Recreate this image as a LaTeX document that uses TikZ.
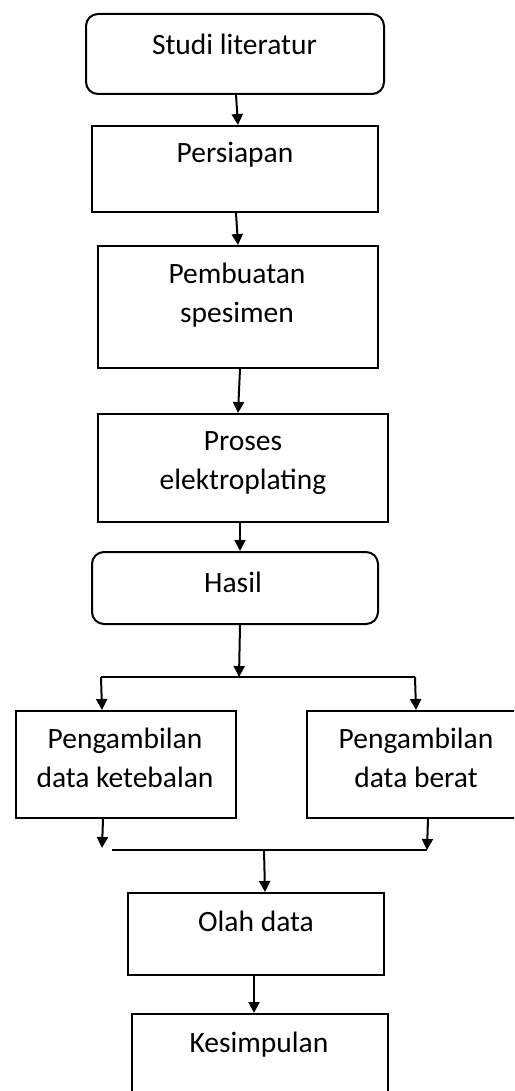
\documentclass[tikz,border=0pt]{standalone}
\usepackage{fontspec}
\setmainfont{Carlito}
\usetikzlibrary{arrows.meta}
\newcommand{\twoline}[2]{\begin{tabular}[t]{@{}c@{}}#1\\#2\end{tabular}}
\tikzset{
  box/.style={draw, line width=2pt, rectangle, inner sep=0pt, anchor=north west},
  rbox/.style={box, rounded corners=12pt},
  txt/.style={inner sep=0pt, anchor=base, font=\fontsize{29.5}{39}\selectfont},
  arr/.style={line width=2pt, -{Triangle[length=11pt,width=11pt]}},
  ln/.style={line width=2pt}
}
\begin{document}
\begin{tikzpicture}[x=1pt,y=-1pt]
\useasboundingbox (0,0) rectangle (514,1091);
\clip (0,0) rectangle (514,1091);
\fill[white] (0,0) rectangle (514,1091);
% boxes
\node[rbox, minimum width=298pt, minimum height=80pt] (b1) at (85,13) {};
\node[box, minimum width=286pt, minimum height=86pt] (b2) at (91,125) {};
\node[box, minimum width=280pt, minimum height=122pt] (b3) at (97,245) {};
\node[box, minimum width=290pt, minimum height=108pt] (b4) at (97,413) {};
\node[rbox, minimum width=286pt, minimum height=72pt] (b5) at (91,551) {};
\node[box, minimum width=220pt, minimum height=107pt] (b6) at (15,710) {};
\node[box, minimum width=224pt, minimum height=107pt] (b7) at (306,710) {};
\node[box, minimum width=256pt, minimum height=82pt] (b8) at (127,892) {};
\node[box, minimum width=256pt, minimum height=100pt] (b9) at (131,1013) {};
% texts
\node[txt] (t1) at (234.5,55) {Studi literatur};
\node[txt] (t2) at (235,163) {Persiapan};
\node[txt] (t3) at (237,283) {\twoline{Pembuatan}{spesimen}};
\node[txt] (t4) at (243,450) {\twoline{Proses}{elektroplating}};
\node[txt] (t5) at (233,592) {Hasil};
\node[txt] (t6) at (125,748) {\twoline{Pengambilan}{data ketebalan}};
\node[txt] (t7) at (416,748) {\twoline{Pengambilan}{data berat}};
\node[txt] (t8) at (256,931) {Olah data};
\node[txt] (t9) at (259,1052) {Kesimpulan};
% junction coordinates
\coordinate (j) at (239,677);
\coordinate (jl) at (101,677);
\coordinate (jr) at (415,677);
\coordinate (kl) at (102,848);
\coordinate (ks) at (112,850);
\coordinate (kr) at (427,850);
\coordinate (km) at (264,850);
% connectors
\draw[arr] ([xshift=1pt]b1.south) -- ([xshift=3pt]b2.north);
\draw[arr] ([xshift=1pt]b2.south) -- (b3.north);
\draw[arr] ([xshift=2pt]b3.south) -- ([xshift=-5pt]b4.north);
\draw[arr] ([xshift=-3pt]b4.south) -- ([xshift=5pt]b5.north);
\draw[arr] ([xshift=5pt]b5.south) -- (j);
\draw[ln] (jl) -- (jr);
\draw[arr] (jl) -- ([xshift=-24pt]b6.north);
\draw[arr] (jr) -- ([xshift=-3pt]b7.north);
\draw[arr] ([xshift=-23pt]b6.south) -- (kl);
\draw[arr] ([xshift=9pt]b7.south) -- (kr);
\draw[ln] (ks) -- (kr);
\draw[arr] (km) -- ([xshift=9pt]b8.north);
\draw[arr] ([xshift=-2pt]b8.south) -- ([xshift=-6pt]b9.north);
\end{tikzpicture}
\end{document}
